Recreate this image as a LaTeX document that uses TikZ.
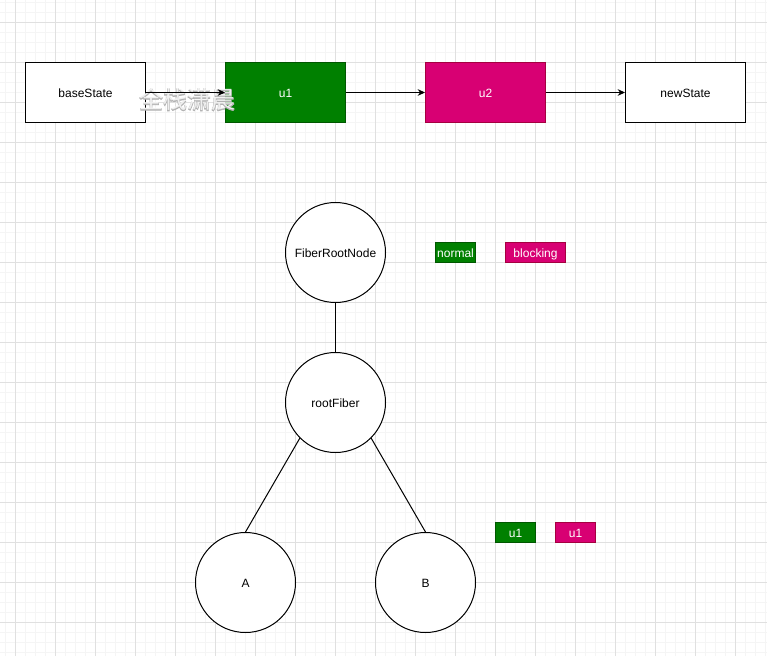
\documentclass[tikz,border=0pt]{standalone}
\usepackage{fontspec}
\setmainfont{Liberation Sans}
\newfontfamily\cjk{Noto Sans CJK SC}
\newfontfamily\cjkheavy[FakeBold=3]{Noto Sans CJK SC}
\usetikzlibrary{positioning,arrows.meta}

\definecolor{normalgreen}{HTML}{008000}
\definecolor{normalline}{HTML}{005700}
\definecolor{blockpink}{HTML}{D80073}
\definecolor{blockline}{HTML}{A50040}

\tikzset{
	every node/.append style={font=\fontsize{9}{11}\selectfont, inner sep=0pt, text height=7pt, text depth=0pt},
	state/.style={shape=rectangle, draw=black, fill=white, minimum width=90, minimum height=45},
	update/.style={shape=rectangle, text=white, minimum width=90, minimum height=45},
	tag/.style={shape=rectangle, text=white, minimum height=15},
	normal/.style={fill=normalgreen, draw=normalline},
	blocking/.style={fill=blockpink, draw=blockline},
	fiber/.style={shape=circle, draw=black, fill=white, minimum size=75},
	link/.style={draw=black, -{Stealth[length=5.5,width=5]}},
	watermark/.style={font=\fontsize{18}{20}\selectfont#1, text height=15pt, text depth=3pt}
}

\begin{document}
\begin{tikzpicture}[x=0.75pt,y=-0.75pt,line width=0.75pt]
	\useasboundingbox (0,0) rectangle (767,656);
	\fill[white] (0,0) rectangle (767,656);
	% Background grid
	\begin{scope}[shift={(5.5,2.5)}]
		\draw[step=7.5pt, black!4, line width=0.75pt] (-10,-10) grid (770,660);
	\end{scope}
	\begin{scope}[shift={(15.5,22.5)}]
		\draw[step=30pt, black!12, line width=0.75pt] (-40,-40) grid (760,640);
	\end{scope}

	% Update queue
	\node [state] (baseState) at (85.5,92.5) {baseState};
	\node [update, normal] (uOne) at (285.5,92.5) {u1};
	\node [update, blocking] (uTwo) at (485.5,92.5) {u2};
	\node [state] (newState) at (685.5,92.5) {newState};

	\draw [link] (uOne) -- (uTwo);
	\draw [link] (uTwo) -- (newState);

	% Fiber tree
	\node [fiber] (fiberRootNode) at (335.5,252.5) {FiberRootNode};
	\node [fiber] (rootFiber) at (335.5,402.5) {rootFiber};
	\node [fiber] (fiberA) at (245.5,582.5) {A};
	\node [fiber] (fiberB) at (425.5,582.5) {B};

	\draw (fiberRootNode) -- (rootFiber);
	\draw (rootFiber.south west) -- (fiberA.north);
	\draw (rootFiber.south east) -- (fiberB.north);

	% Legend
	\node [tag, normal, minimum width=30] (tagNormal) at (455.5,252.5) {normal};
	\node [tag, blocking, minimum width=45] (tagBlocking) at (535.5,252.5) {blocking};
	\node [tag, normal, minimum width=30] (tagOne) at (515.5,532.5) {u1};
	\node [tag, blocking, minimum width=30] (tagTwo) at (575.5,532.5) {u1};

	% Watermark
	\node [watermark=\cjkheavy, text=black!30] (markEdge) at (187,101) {全栈潇晨};
	\node [watermark=\cjk, text=white, opacity=0.8] (markFill) at (187,101) {全栈潇晨};

	\draw [link] (baseState) -- (uOne);
\end{tikzpicture}
\end{document}
